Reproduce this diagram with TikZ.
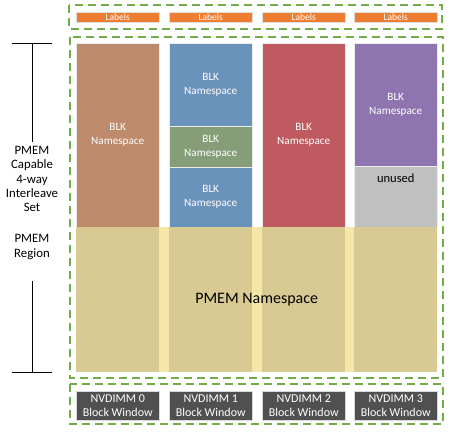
\documentclass[tikz,border=0pt]{standalone}
\usepackage{fontspec}
\setmainfont{Carlito}
\usepackage{xcolor}
\usetikzlibrary{positioning}
\definecolor{dashgreen}{HTML}{70AD47}
\definecolor{labelorange}{HTML}{ED7D31}
\definecolor{blkbrown}{HTML}{BD8A6C}
\definecolor{blkblue}{HTML}{6A93BC}
\definecolor{blkgreen}{HTML}{859E78}
\definecolor{blkred}{HTML}{BE5A60}
\definecolor{blkpurple}{HTML}{8E75B0}
\definecolor{unusedgray}{HTML}{C0C0C0}
\definecolor{pmemtan}{HTML}{D8CA92}
\definecolor{pmemstrip}{HTML}{F6E6A8}
\definecolor{windowgray}{HTML}{505050}
\tikzset{
	groupbox/.style={draw=dashgreen, line width=1.4pt, dash pattern=on 8pt off 5pt},
	labelbox/.style={rectangle, fill=labelorange, draw=white!75!gray, line width=0.5pt, anchor=north west, minimum width=83pt, minimum height=10pt, inner sep=0pt, text=white, font=\fontsize{9.5}{10}\selectfont},
	nsbox/.style={rectangle, draw=white!85!gray, line width=0.5pt, anchor=north west, minimum width=83pt, inner sep=0pt, text=white, align=center, font=\fontsize{11.2}{14}\selectfont},
	pmembox/.style={rectangle, fill=pmemtan, anchor=north west, minimum width=83pt, minimum height=145pt, inner sep=0pt},
	windowbox/.style={rectangle, fill=windowgray, draw=white!70!gray, line width=0.5pt, anchor=north west, minimum width=83pt, minimum height=29pt, inner sep=0pt, text=white, align=center, font=\fontsize{12}{13.3}\selectfont},
	sidetext/.style={align=center, inner sep=4pt, font=\fontsize{12.8}{14.3}\selectfont}
}

\begin{document}
\begin{tikzpicture}[x=1pt, y=-1pt]
	\useasboundingbox (0,0) rectangle (450,435);

	% Dashed group boxes
	\draw[groupbox] (69,5) rectangle (442,29);
	\draw[groupbox] (70,37) rectangle (443,378);
	\draw[groupbox] (70,384) rectangle (443,424);

	% Labels row
	\foreach \x/\n in {76/0, 169/1, 262/2, 354/3}
		\node[labelbox] (label\n) at (\x,12) {Labels};

	% BLK namespaces
	\node[nsbox, fill=blkbrown, minimum height=184pt] (blk0) at (76,43) {BLK\\Namespace};
	\node[nsbox, fill=blkblue, minimum height=83pt] (blk1a) at (169,43) {BLK\\Namespace};
	\node[nsbox, fill=blkgreen, minimum height=41pt] (blk1b) at (169,126) {BLK\\Namespace};
	\node[nsbox, fill=blkblue, minimum height=60pt] (blk1c) at (169,167) {BLK\\Namespace};
	\node[nsbox, fill=blkred, minimum height=184pt] (blk2) at (262,43) {BLK\\Namespace};
	\node[nsbox, fill=blkpurple, minimum height=123pt] (blk3) at (354,43) {BLK\\Namespace};
	\node[nsbox, fill=unusedgray, minimum height=61pt] (unused) at (354,166) {};
	\node[below=6pt of unused.north, inner sep=2pt, font=\fontsize{12.5}{14}\selectfont] (unusedtext) {unused};

	% PMEM namespace across the interleave set
	\node[rectangle, fill=pmemstrip, anchor=north west, minimum width=361pt, minimum height=145pt, inner sep=0pt] (pmem) at (76,227) {};
	\foreach \x/\n in {76/0, 169/1, 262/2, 354/3}
		\node[pmembox] (pmem\n) at (\x,227) {};
	\node[font=\fontsize{16}{19}\selectfont] (pmemtext) at (pmem.center) {PMEM Namespace};

	% Block windows
	\foreach \x/\n in {76/0, 169/1, 262/2, 354/3}
		\node[windowbox] (window\n) at (\x,391) {NVDIMM \n\\Block Window};

	% Side labels and bracket
	\node[sidetext] (setlabel) at (32,179) {PMEM\\Capable\\4-way\\Interleave\\Set};
	\node[sidetext] (regionlabel) at (32,247) {PMEM\\Region};
	\coordinate (brtop) at (32,43);
	\coordinate (brbot) at (32,372);
	\coordinate (brmid) at (32,281);
	\draw[line width=0.8pt] ([xshift=-20pt]brtop) -- ([xshift=20pt]brtop);
	\draw[line width=0.8pt] ([xshift=-20pt]brbot) -- ([xshift=20pt]brbot);
	\draw[line width=0.8pt] (brtop) -- (setlabel.north);
	\draw[line width=0.8pt] (brmid) -- (brbot);
\end{tikzpicture}
\end{document}
